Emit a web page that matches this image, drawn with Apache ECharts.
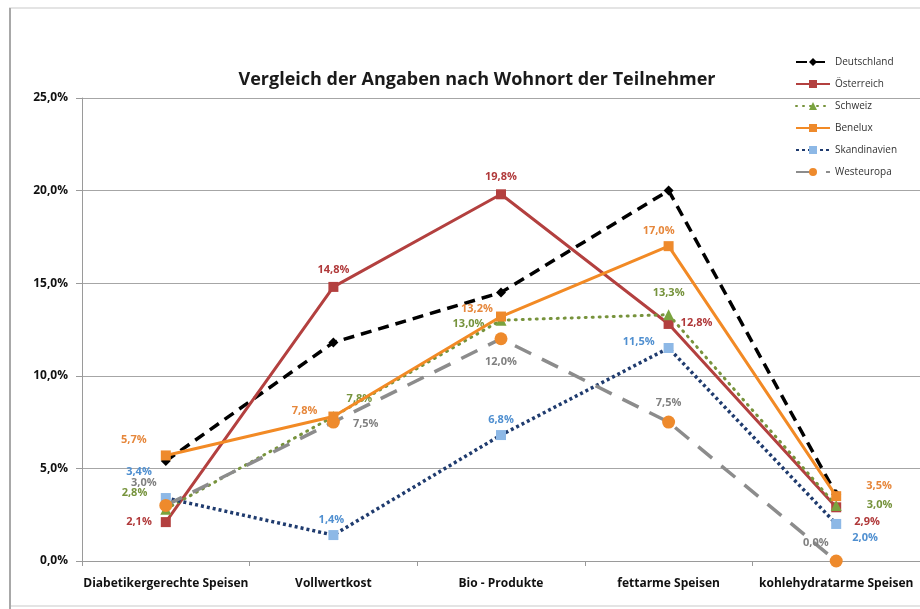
<!DOCTYPE html>
<html>
<head>
<meta charset="utf-8">
<script src="https://cdn.jsdelivr.net/npm/echarts@6/dist/echarts.min.js"></script>
<style>
html,body{margin:0;padding:0;background:#fff;}
#main{width:920px;height:609px;}
</style>
</head>
<body>
<div id="main"></div>
<script>
var categories = ['Diabetikergerechte Speisen','Vollwertkost','Bio - Produkte','fettarme Speisen','kohlehydratarme Speisen'];
var deutschland = [5.4, 11.8, 14.5, 20.0, 3.6];
var oesterreich = [2.1, 14.8, 19.8, 12.8, 2.9];
var schweiz = [2.8, 7.8, 13.0, 13.3, 3.0];
var benelux = [5.7, 7.8, 13.2, 17.0, 3.5];
var skandinavien = [3.4, 1.4, 6.8, 11.5, 2.0];
var westeuropa = [3.0, 7.5, 12.0, 7.5, 0.0];

// label placement per point (style only)
var labelPos = {
	oe: [['left',[-4,0]], ['top',[0,-2]], ['top',[0,-2]], ['right',[2,-1]], ['right',[8,15]]],
	ch: [['left',[-8,-16]], ['top',[26,-2]], ['left',[-6,4]], ['top',[0,-6]], ['right',[20,-1]]],
	be: [['top',[-32,0]], ['left',[-6,-6]], ['top',[-24,8]], ['top',[-10,0]], ['right',[20,-10]]],
	sk: [['left',[-4,-26]], ['top',[-2,0]], ['top',[0,0]], ['left',[-4,-6]], ['right',[6,14]]],
	we: [['top',[-22,-6]], ['right',[8,2]], ['bottom',[0,6]], ['top',[0,-2]], ['left',[4,-18]]]
};

function fmt(v){ return v.toFixed(1).replace('.', ',') + '%'; }

function withLabels(values, pos, color){
	return values.map(function(v, i){
		return {
			value: v,
			label: {
				show: true,
				position: pos[i][0],
				offset: pos[i][1],
				color: color,
				fontWeight: 'bold',
				fontSize: 11,
				fontFamily: 'Open Sans',
				formatter: function(p){ return fmt(p.value); }
			}
		};
	});
}

var chart = echarts.init(document.getElementById('main'));
var option = {
	animation: false,
	backgroundColor: '#fff',
	graphic: [
		{
			type: 'rect',
			shape: {x: 10, y: 8, width: 915, height: 598},
			style: {fill: 'none', stroke: '#e4e4e4', lineWidth: 2},
			silent: true
		},
		{
			type: 'line',
			shape: {x1: 10, y1: 8, x2: 10, y2: 609},
			style: {stroke: '#a8a8a8', lineWidth: 2},
			silent: true
		}
	],
	title: {
		text: 'Vergleich der Angaben nach Wohnort der Teilnehmer',
		left: 472,
		textAlign: 'center',
		top: 66,
		textStyle: {fontFamily: 'Open Sans', fontWeight: 'bold', fontSize: 18, color: '#1a1a1a'}
	},
	legend: {
		orient: 'vertical',
		left: 790,
		top: 52,
		itemWidth: 34,
		itemHeight: 10,
		itemGap: 12,
		textStyle: {fontFamily: 'Open Sans', fontSize: 10, color: '#333'},
		data: ['Deutschland','Österreich','Schweiz','Benelux','Skandinavien','Westeuropa']
	},
	grid: {left: 82, top: 98, width: 840, bottom: 48, containLabel: false},
	xAxis: {
		type: 'category',
		data: categories,
		boundaryGap: true,
		axisLine: {lineStyle: {color: '#9a9a9a', width: 1}},
		axisTick: {show: true, alignWithLabel: false, length: 5, lineStyle: {color: '#9a9a9a'}},
		axisLabel: {color: '#111', fontWeight: 'bold', fontSize: 12, fontFamily: 'Open Sans', margin: 17, interval: 0}
	},
	yAxis: {
		type: 'value',
		min: 0, max: 25, interval: 5,
		axisLine: {show: true, lineStyle: {color: '#9a9a9a'}},
		axisTick: {show: true, length: 6, lineStyle: {color: '#9a9a9a'}},
		splitLine: {lineStyle: {color: '#a6a6a6', width: 1}},
		axisLabel: {color: '#111', fontWeight: 'bold', fontSize: 12, fontFamily: 'Open Sans', margin: 14, formatter: fmt}
	},
	series: [
		{
			name: 'Deutschland', type: 'line', data: deutschland,
			symbol: 'diamond', symbolSize: 10,
			itemStyle: {color: '#000'},
			lineStyle: {color: '#000', width: 3.5, type: [11, 7]},
			z: 2
		},
		{
			name: 'Österreich', type: 'line', data: withLabels(oesterreich, labelPos.oe, '#b0393a'),
			symbol: 'rect', symbolSize: 10,
			itemStyle: {color: '#b3403f'},
			lineStyle: {color: '#b3403f', width: 3},
			z: 3
		},
		{
			name: 'Schweiz', type: 'line', data: withLabels(schweiz, labelPos.ch, '#76933c'),
			symbol: 'triangle', symbolSize: 11,
			itemStyle: {color: '#7aa33e'},
			lineStyle: {color: '#77933c', width: 3, type: [1, 6], cap: 'round'},
			z: 4
		},
		{
			name: 'Benelux', type: 'line', data: withLabels(benelux, labelPos.be, '#e6873b'),
			symbol: 'rect', symbolSize: 10,
			itemStyle: {color: '#ee8a2c'},
			lineStyle: {color: '#f28a25', width: 3},
			z: 5
		},
		{
			name: 'Skandinavien', type: 'line', data: withLabels(skandinavien, labelPos.sk, '#4f8fd0'),
			symbol: 'rect', symbolSize: 10,
			itemStyle: {color: '#8db8e6'},
			lineStyle: {color: '#1f3b6e', width: 3.5, type: [3, 3]},
			z: 6
		},
		{
			name: 'Westeuropa', type: 'line', data: withLabels(westeuropa, labelPos.we, '#808080'),
			symbol: 'circle', symbolSize: 13,
			itemStyle: {color: '#ee8a2c'},
			lineStyle: {color: '#8c8c8c', width: 3.5, type: [18, 12]},
			z: 7
		}
	]
};
chart.setOption(option);
</script>
</body>
</html>
